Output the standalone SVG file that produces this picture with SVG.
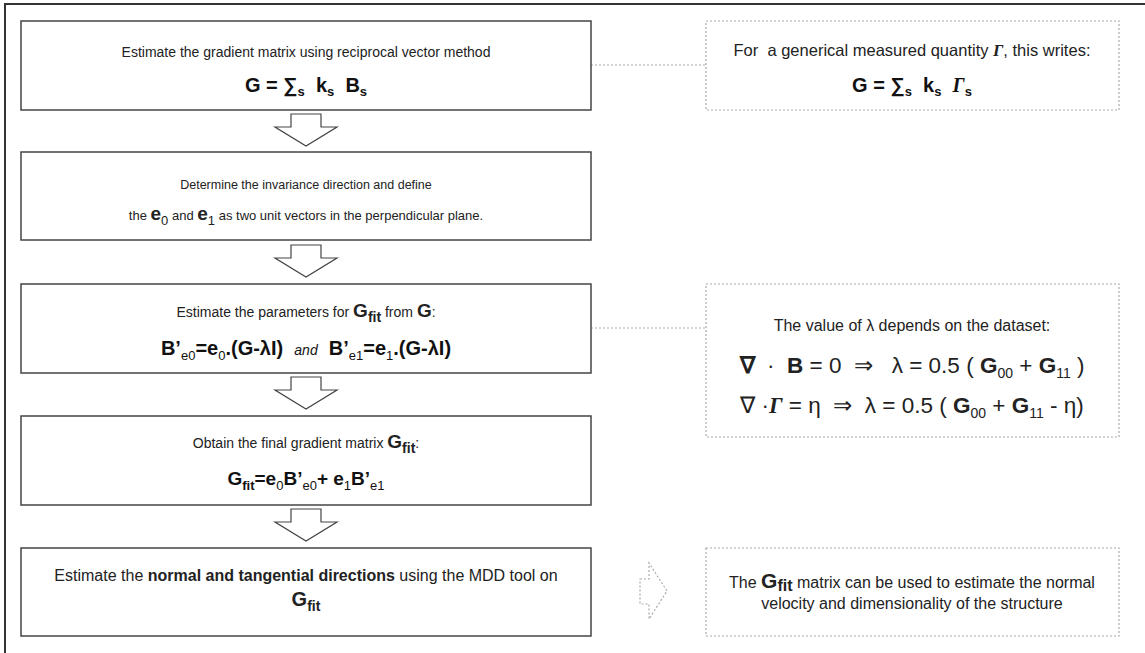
<svg xmlns="http://www.w3.org/2000/svg" width="1145" height="653" viewBox="0 0 1145 653">
<style>
.t{font-family:"Liberation Sans",Arial,sans-serif;font-size:14px;fill:#222;}
.f{font-family:"Liberation Sans",Arial,sans-serif;font-size:19px;font-weight:bold;fill:#111;}
.box{fill:#fff;stroke:#444;stroke-width:1.5;}
.dbox{fill:#fff;stroke:#aaa;stroke-width:1.2;stroke-dasharray:2,2;}
.arr{fill:#fff;stroke:#444;stroke-width:1.2;}
.gam{font-family:"Liberation Serif","Times New Roman",serif;font-style:italic;font-weight:bold;}
.sub{font-size:13px;}
.big{font-weight:bold;font-size:19px;}
</style>
<rect x="5" y="4" width="1160" height="670" fill="#fff" stroke="#333" stroke-width="2"/>
<g id="connectors">
<line x1="591" y1="65" x2="706" y2="65" stroke="#aaa" stroke-width="1.2" stroke-dasharray="2,2"/>
<line x1="591" y1="328" x2="706" y2="328" stroke="#aaa" stroke-width="1.2" stroke-dasharray="2,2"/>
<path class="arr" d="M291 114 H321 V127 H337 L306 146 L275 127 H291 Z"/>
<path class="arr" d="M291 245 H321 V258 H337 L306 277 L275 258 H291 Z"/>
<path class="arr" d="M291 377 H321 V390 H337 L306 409 L275 390 H291 Z"/>
<path class="arr" d="M291 509 H321 V522 H337 L306 541 L275 522 H291 Z"/>
<path d="M640 579 H649 V563 L667 591 L649 619 V604 H640 Z" fill="none" stroke="#aaa" stroke-width="1.2" stroke-dasharray="2,2"/>
</g>
<g id="box1">
<rect class="box" x="21" y="21" width="570" height="89"/>
<text class="t" x="306" y="57" text-anchor="middle">Estimate the gradient matrix using reciprocal vector method</text>
<text class="f" x="306" y="92" text-anchor="middle" style="font-size:20px">G = ∑<tspan class="sub" dy="4">s</tspan><tspan dy="-4">&#160;&#160;k</tspan><tspan class="sub" dy="4">s</tspan><tspan dy="-4">&#160;&#160;B</tspan><tspan class="sub" dy="4">s</tspan></text>
</g>
<g id="box2">
<rect class="box" x="21" y="152" width="570" height="88"/>
<text class="t" x="306" y="189" text-anchor="middle" style="font-size:12.5px">Determine the invariance direction and define</text>
<text class="t" x="306" y="220" text-anchor="middle" style="font-size:13px">the <tspan font-weight="bold" font-size="19px">e</tspan><tspan dy="5">0</tspan><tspan dy="-5"> and </tspan><tspan font-weight="bold" font-size="19px">e</tspan><tspan dy="5">1</tspan><tspan dy="-5"> as two unit vectors in the perpendicular plane.</tspan></text>
</g>
<g id="box3">
<rect class="box" x="21" y="284" width="570" height="89"/>
<text class="t" x="306" y="317" text-anchor="middle">Estimate the parameters for <tspan class="big">G</tspan><tspan font-weight="bold" dy="5">fit</tspan><tspan dy="-5"> from </tspan><tspan class="big">G</tspan>:</text>
<text class="f" x="306" y="355" text-anchor="middle" style="font-size:20px">B’<tspan class="sub" font-weight="normal" dy="5">e0</tspan><tspan dy="-5">=e</tspan><tspan class="sub" font-weight="normal" dy="5">0</tspan><tspan dy="-5">.(G-λI)&#160;&#160;</tspan><tspan font-weight="normal" font-style="italic" font-size="14px">and</tspan><tspan>&#160;&#160;B’</tspan><tspan class="sub" font-weight="normal" dy="5">e1</tspan><tspan dy="-5">=e</tspan><tspan class="sub" font-weight="normal" dy="5">1</tspan><tspan dy="-5">.(G-λI)</tspan></text>
</g>
<g id="box4">
<rect class="box" x="21" y="416" width="570" height="89"/>
<text class="t" x="306" y="448" text-anchor="middle">Obtain the final gradient matrix <tspan class="big">G</tspan><tspan font-weight="bold" dy="5">fit</tspan><tspan dy="-5">:</tspan></text>
<text class="f" x="306" y="485" text-anchor="middle">G<tspan class="sub" dy="5">fit</tspan><tspan dy="-5">=e</tspan><tspan class="sub" font-weight="normal" dy="5">0</tspan><tspan dy="-5">B’</tspan><tspan class="sub" font-weight="normal" dy="5">e0</tspan><tspan dy="-5">+ e</tspan><tspan class="sub" font-weight="normal" dy="5">1</tspan><tspan dy="-5">B’</tspan><tspan class="sub" font-weight="normal" dy="5">e1</tspan></text>
</g>
<g id="box5">
<rect class="box" x="21" y="548" width="570" height="88"/>
<text class="t" x="306" y="581" text-anchor="middle" style="font-size:16px">Estimate the <tspan font-weight="bold">normal and tangential directions</tspan> using the MDD tool on</text>
<text class="t" x="306" y="606" text-anchor="middle"><tspan class="big" style="font-size:20px">G</tspan><tspan font-weight="bold" dy="5">fit</tspan></text>
</g>
<g id="note1">
<rect class="dbox" x="706" y="21" width="413" height="89"/>
<text class="t" x="912" y="56" text-anchor="middle" style="font-size:16.5px">For&#160;&#160;a generical measured quantity <tspan class="gam" font-size="17px">Γ</tspan>, this writes:</text>
<text class="f" x="912" y="92" text-anchor="middle" style="font-size:20px">G = ∑<tspan class="sub" dy="4">s</tspan><tspan dy="-4">&#160;&#160;k</tspan><tspan class="sub" dy="4">s</tspan><tspan dy="-4">&#160;&#160;</tspan><tspan class="gam">Γ</tspan><tspan class="sub" dy="4">s</tspan></text>
</g>
<g id="note2">
<rect class="dbox" x="706" y="284" width="413" height="153"/>
<text class="t" x="912" y="331" text-anchor="middle" style="font-size:16px">The value of λ depends on the dataset:</text>
<text class="t" x="912" y="373" text-anchor="middle" style="font-size:22.5px"><tspan font-weight="bold">∇</tspan>&#160; · &#160;<tspan font-weight="bold">B</tspan> = 0 &#160;⇒ &#160;&#160;λ = 0.5 ( <tspan font-weight="bold">G</tspan><tspan font-size="14px" dy="5">00</tspan><tspan dy="-5"> + </tspan><tspan font-weight="bold">G</tspan><tspan font-size="14px" dy="5">11</tspan><tspan dy="-5"> )</tspan></text>
<text class="t" x="912" y="413" text-anchor="middle" style="font-size:22.5px">∇ ·<tspan class="gam">Γ</tspan> = η &#160;⇒ &#160;λ = 0.5 ( <tspan font-weight="bold">G</tspan><tspan font-size="14px" dy="5">00</tspan><tspan dy="-5"> + </tspan><tspan font-weight="bold">G</tspan><tspan font-size="14px" dy="5">11</tspan><tspan dy="-5"> - η)</tspan></text>
</g>
<g id="note3">
<rect class="dbox" x="706" y="548" width="413" height="88"/>
<text class="t" x="912" y="588" text-anchor="middle" style="font-size:16px">The <tspan class="big" style="font-size:21px">G</tspan><tspan font-weight="bold" dy="3">fit</tspan><tspan dy="-3"> matrix can be used to estimate the normal</tspan></text>
<text class="t" x="912" y="609" text-anchor="middle" style="font-size:16px">velocity and dimensionality of the structure</text>
</g>
</svg>
